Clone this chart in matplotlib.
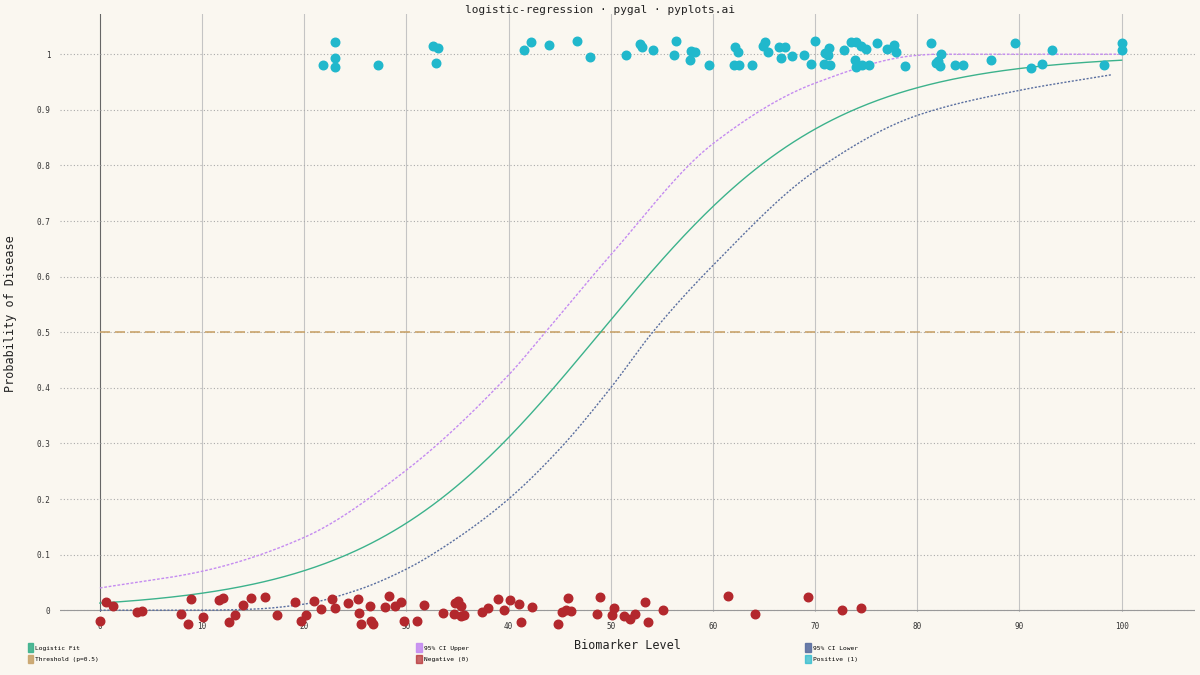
import numpy as np
import matplotlib
matplotlib.use("Agg")
import matplotlib.pyplot as plt
from matplotlib.patches import Patch

plt.rcParams['font.family'] = ['DejaVu Sans Mono']

# Logistic model
fit_mid = 49.0
fit_slope = 0.0886
fit_xrange = [0, 100]

upper_x = [0, 10, 20, 30, 40, 43.6, 50, 60, 70, 80, 82, 90, 100]
upper_y = [0.04, 0.07, 0.131, 0.252, 0.423, 0.5, 0.639, 0.839, 0.948, 0.998, 1.0, 1.0, 1.0]
lower_x = [0, 10, 15, 20, 25, 30, 35, 40, 45, 50, 54.1, 60, 70, 80, 90, 99]
lower_y = [0.0, 0.0, 0.002, 0.011, 0.035, 0.074, 0.13, 0.2, 0.29, 0.4, 0.5, 0.62, 0.79, 0.89, 0.935, 0.963]

pos_x = [21.8, 23, 23, 23, 27.2, 32.6, 33.1, 32.9, 41.5, 42.2, 44, 46.7, 48, 51.5, 52.9, 53.1, 54.1, 56.2, 56.4, 57.8, 57.9, 58.2, 59.6, 62.2, 62.5, 62.1, 62.6, 63.8, 64.9, 65.1, 65.4, 66.5, 66.7, 67.1, 67.7, 68.9, 69.6, 70, 71, 70.9, 71.4, 71.3, 71.5, 72.8, 73.5, 74, 73.9, 74, 74.5, 74.6, 75, 75.3, 76.1, 77, 77.7, 77.9, 78.8, 81.3, 81.8, 82, 82.2, 82.3, 83.7, 84.5, 87.2, 89.6, 91.1, 92.2, 93.2, 98.3, 100, 100]
pos_y = [0.98, 1.022, 0.993, 0.977, 0.98, 1.015, 1.012, 0.985, 1.008, 1.022, 1.017, 1.023, 0.995, 0.998, 1.018, 1.013, 1.007, 0.998, 1.023, 0.99, 1.006, 1.004, 0.98, 1.013, 1.004, 0.98, 0.981, 0.98, 1.015, 1.022, 1.004, 1.013, 0.994, 1.013, 0.997, 0.998, 0.982, 1.024, 1.002, 0.982, 1.011, 0.998, 0.98, 1.007, 1.022, 1.022, 0.99, 0.977, 1.015, 0.98, 1.01, 0.98, 1.02, 1.01, 1.016, 1.004, 0.978, 1.02, 0.985, 0.987, 0.978, 1.0, 0.98, 0.98, 0.99, 1.02, 0.976, 0.983, 1.007, 0.98, 1.02, 1.008]

neg_x = [0, 0.6, 1.3, 3.6, 4.1, 7.9, 8.6, 8.9, 10.1, 11.7, 12.1, 12.6, 13.2, 14, 14.8, 16.2, 17.3, 19.1, 19.7, 20.2, 21, 21.6, 22.7, 23, 24.3, 25.3, 25.4, 25.6, 26.4, 26.5, 26.7, 27.9, 28.3, 28.9, 29.5, 29.8, 31, 31.7, 33.6, 34.7, 34.8, 35.1, 35.3, 35.3, 35.6, 37.4, 38, 39, 39.6, 40.1, 41, 41.2, 42.3, 44.8, 45.2, 45.6, 45.8, 46.1, 48.7, 48.9, 50.1, 50.3, 51.3, 51.9, 52.4, 53.4, 53.6, 55.1, 61.5, 64.1, 69.3, 72.6, 74.5]
neg_y = [-0.02, 0.015, 0.007, -0.003, -0.002, -0.006, -0.024, 0.02, -0.012, 0.019, 0.022, -0.022, -0.009, 0.01, 0.022, 0.023, -0.009, 0.014, -0.02, -0.008, 0.016, 0.002, 0.02, 0.004, 0.013, 0.02, -0.005, -0.024, 0.007, -0.02, -0.024, 0.005, 0.025, 0.007, 0.014, -0.02, -0.02, 0.009, -0.005, -0.006, 0.013, 0.017, 0.008, -0.01, -0.008, -0.004, 0.004, 0.02, 0.0, 0.019, 0.012, -0.022, 0.006, -0.024, -0.003, 0.0, 0.022, -0.002, -0.006, 0.023, -0.008, 0.004, -0.01, -0.015, -0.006, 0.014, -0.022, 0.001, 0.025, -0.006, 0.023, 0.0, 0.004]

threshold = 0.5
x_ticks = [0, 10, 20, 30, 40, 50, 60, 70, 80, 90, 100]
y_ticks = [0, 0.1, 0.2, 0.3, 0.4, 0.5, 0.6, 0.7, 0.8, 0.9, 1]


def pchip(xk, yk, xs):
    """Monotone cubic smoothing of a read-off curve for drawing."""
    xk = np.asarray(xk, float); yk = np.asarray(yk, float)
    h = np.diff(xk); d = np.diff(yk) / h
    m = np.zeros_like(yk)
    for i in range(1, len(xk) - 1):
        if d[i - 1] * d[i] > 0:
            w1 = 2 * h[i] + h[i - 1]; w2 = h[i] + 2 * h[i - 1]
            m[i] = (w1 + w2) / (w1 / d[i - 1] + w2 / d[i])
    m[0] = d[0]; m[-1] = d[-1]
    idx = np.clip(np.searchsorted(xk, xs) - 1, 0, len(h) - 1)
    t = (xs - xk[idx]) / h[idx]
    h00 = 2 * t**3 - 3 * t**2 + 1; h10 = t**3 - 2 * t**2 + t
    h01 = -2 * t**3 + 3 * t**2; h11 = t**3 - t**2
    return h00 * yk[idx] + h10 * h[idx] * m[idx] + h01 * yk[idx + 1] + h11 * h[idx] * m[idx + 1]


bg = '#faf7f0'
c_fit, c_up, c_lo = '#3cb28c', '#c58cf0', '#5a6fa0'
c_thr, c_neg, c_pos = '#c9a46c', '#b3282d', '#21b8cc'

fig = plt.figure(figsize=(12, 6.75), dpi=100, facecolor=bg)
ax = fig.add_axes([0.05, 0.093, 0.946, 0.886], facecolor=bg)
ax.set_xlim(-3.9, 107.2)
ax.set_ylim(-0.0036, 1.072)

for xt in x_ticks:
    ax.axvline(xt, color='#666666' if xt == 0 else '#c4c4c4', lw=0.8, zorder=0)
for yt in y_ticks:
    ax.axhline(yt, color='#aaaaaa', lw=0.8, ls=(0, (1, 2)), zorder=0)
ax.axhline(0, color='#999999', lw=0.8, zorder=1)

xs_u = np.linspace(upper_x[0], upper_x[-1], 400)
xs_l = np.linspace(lower_x[0], lower_x[-1], 400)
xs_f = np.linspace(fit_xrange[0], fit_xrange[1], 400)
ax.plot(xs_u, pchip(upper_x, upper_y, xs_u), color=c_up, lw=1.0, ls=(0, (2, 1.2)), zorder=2)
ax.plot(xs_l, pchip(lower_x, lower_y, xs_l), color=c_lo, lw=1.0, ls=(0, (1.5, 1.2)), zorder=2)
ax.plot(xs_f, 1 / (1 + np.exp(-fit_slope * (xs_f - fit_mid))), color=c_fit, lw=1.0, zorder=3)
ax.plot([0, 100], [threshold, threshold], color=c_thr, lw=1.2, ls=(0, (6, 3)), zorder=2)
ax.scatter(neg_x, neg_y, s=38, color=c_neg, zorder=4, clip_on=False)
ax.scatter(pos_x, pos_y, s=38, color=c_pos, zorder=4, clip_on=False)

for s in ax.spines.values():
    s.set_visible(False)
ax.set_xticks(x_ticks)
ax.set_xticklabels([str(v) for v in x_ticks])
ax.set_yticks(y_ticks)
ax.set_yticklabels(['0' if v == 0 else ('1' if v == 1 else f'{v:.1f}') for v in y_ticks])
ax.tick_params(length=0, labelsize=5.5, colors='#333333', pad=7)
ax.set_xlabel('Biomarker Level', fontsize=8.5, color='#222222', labelpad=6)
ax.set_ylabel('Probability of Disease', fontsize=8.5, color='#222222', labelpad=14)
fig.text(0.5, 0.993, 'logistic-regression · pygal · pyplots.ai', ha='center', va='top', fontsize=8, color='#222222')

cols = [
    [Patch(facecolor=c_fit, edgecolor=c_fit, alpha=0.9, label='Logistic Fit'),
     Patch(facecolor=c_thr, edgecolor=c_thr, alpha=0.9, label='Threshold (p=0.5)')],
    [Patch(facecolor=c_up, edgecolor=c_up, alpha=0.9, label='95% CI Upper'),
     Patch(facecolor=c_neg, edgecolor=c_neg, alpha=0.7, label='Negative (0)')],
    [Patch(facecolor=c_lo, edgecolor=c_lo, alpha=0.9, label='95% CI Lower'),
     Patch(facecolor=c_pos, edgecolor=c_pos, alpha=0.7, label='Positive (1)')],
]
for hx, hs in zip([0.023, 0.347, 0.671], cols):
    fig.legend(handles=hs, loc='upper left', bbox_to_anchor=(hx, 0.047),
               frameon=False, fontsize=4.5, handlelength=0.9, handleheight=1.7,
               handletextpad=0.3, labelspacing=0.45, borderaxespad=0, borderpad=0)

fig.savefig('out.png', dpi=100, facecolor=bg)
